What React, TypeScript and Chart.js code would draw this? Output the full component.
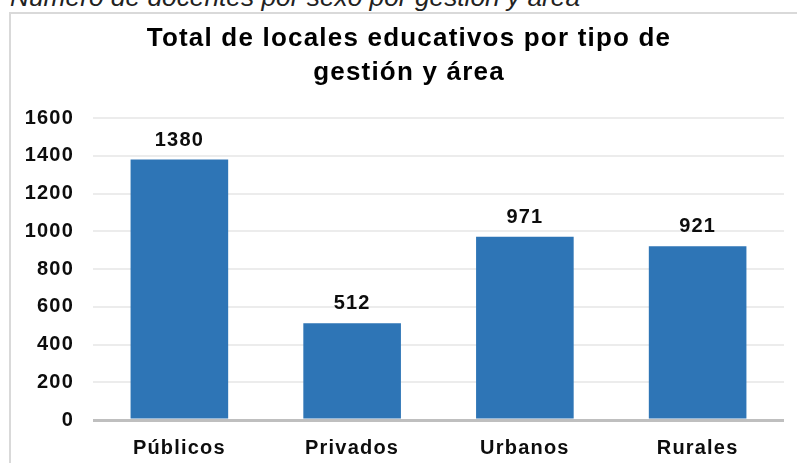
import React, { useEffect, useRef } from "react";
import { Chart, registerables } from "chart.js";

Chart.register(...registerables);

const categories = ["Públicos", "Privados", "Urbanos", "Rurales"];
const values = [1380, 512, 971, 921];
const titleLines = ["Total de locales educativos por tipo de", "gestión y área"];
const caption = "Número de docentes por sexo por gestión y área";
const yMin = 0;
const yMax = 1600;
const yStep = 200;

const FONT = "'Liberation Sans', Arial, sans-serif";
const TEXT = "#0d0d0d";

const spacingPlugin = {
  id: "letterSpacingPlugin",
  beforeUpdate(chart: any) {
    chart.ctx.letterSpacing = "1.2px";
  },
  beforeDraw(chart: any) {
    chart.ctx.letterSpacing = "1.2px";
  },
};

const valueLabels = {
  id: "valueLabels",
  afterDatasetsDraw(chart: any) {
    const ctx = chart.ctx;
    const meta = chart.getDatasetMeta(0);
    const data = chart.data.datasets[0].data;
    ctx.save();
    ctx.font = `bold 20px ${FONT}`;
    ctx.fillStyle = TEXT;
    ctx.textAlign = "center";
    ctx.textBaseline = "alphabetic";
    meta.data.forEach((bar: any, i: number) => {
      ctx.fillText(String(data[i]), bar.x, bar.y - 14);
    });
    ctx.restore();
  },
};

export default function App() {
  const ref = useRef<HTMLCanvasElement>(null);

  useEffect(() => {
    if (!ref.current) return;
    const chart = new Chart(ref.current, {
      type: "bar",
      data: {
        labels: categories,
        datasets: [
          {
            data: values,
            backgroundColor: "#2E75B6",
            borderWidth: 0,
            categoryPercentage: 1,
            barPercentage: 0.565,
            yAxisID: "y",
          },
        ],
      },
      options: {
        responsive: false,
        animation: false,
        devicePixelRatio: 1,
        layout: { padding: { left: 0, right: 0, top: 0, bottom: 0 } },
        plugins: {
          legend: { display: false },
          tooltip: { enabled: false },
          title: {
            display: true,
            text: titleLines,
            color: "#000",
            font: { family: FONT, size: 26, weight: "bold", lineHeight: 1.3 },
            padding: { top: 7.8, bottom: 28.6 },
          },
        },
        scales: {
          x: {
            grid: { display: false, drawTicks: false },
            border: { display: false },
            ticks: {
              color: TEXT,
              font: { family: FONT, size: 20, weight: "bold" },
              padding: 16,
              maxRotation: 0,
              autoSkip: false,
            },
            afterFit(s: any) {
              s.height = 43;
            },
          },
          y: {
            position: "left",
            min: yMin,
            max: yMax,
            ticks: {
              stepSize: yStep,
              color: TEXT,
              font: { family: FONT, size: 20, weight: "bold" },
              padding: 19,
              callback: (v: any) => String(v),
            },
            grid: {
              drawTicks: false,
              color: (c: any) => (c.tick && c.tick.value === 0 ? "#bfbfbf" : "#ececec"),
              lineWidth: (c: any) => (c.tick && c.tick.value === 0 ? 3 : 2),
            },
            border: { display: false },
            afterFit(s: any) {
              s.width = 82;
            },
          },
          yRight: {
            position: "right",
            display: true,
            grid: { display: false, drawTicks: false },
            ticks: { display: false },
            border: { display: false },
            afterFit(s: any) {
              s.width = 23;
            },
          },
        },
      },
      plugins: [spacingPlugin, valueLabels],
    });
    return () => chart.destroy();
  }, []);

  return (
    <div
      style={{
        position: "fixed",
        left: 0,
        top: 0,
        width: 797,
        height: 463,
        overflow: "hidden",
        background: "#fff",
      }}
    >
      <div
        style={{
          position: "absolute",
          left: 10,
          top: -16,
          fontFamily: FONT,
          fontStyle: "italic",
          fontSize: 26.3,
          lineHeight: "26px",
          color: "#222",
          whiteSpace: "nowrap",
        }}
      >
        {caption}
      </div>
      <div
        style={{
          position: "absolute",
          left: 9,
          top: 12,
          width: 800,
          height: 470,
          border: "2px solid #d9d9d9",
          background: "#fff",
        }}
      >
        <canvas ref={ref} width={796} height={449} style={{ display: "block" }} />
      </div>
    </div>
  );
}
